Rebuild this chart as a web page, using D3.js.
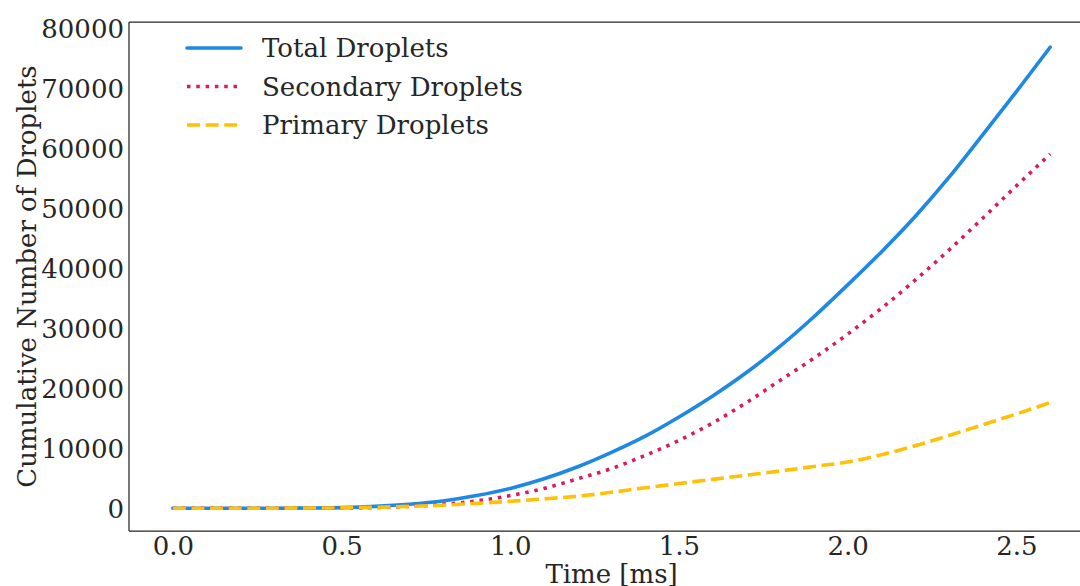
<!DOCTYPE html>
<html>
<head>
<meta charset="utf-8">
<script src="https://cdn.jsdelivr.net/npm/d3@7"></script>
<style>
  html, body { margin: 0; padding: 0; background: #fff; }
  svg { display: block; }
  text { font-family: "DejaVu Serif", serif; fill: #262626; }
</style>
</head>
<body>
<svg id="chart" width="1080" height="586"></svg>
<script>
// ---- data ----
const time = [0.0, 0.1, 0.2, 0.3, 0.4, 0.5, 0.6, 0.7, 0.8, 0.9, 1.0, 1.1, 1.2, 1.3,
              1.4, 1.5, 1.6, 1.7, 1.8, 1.9, 2.0, 2.1, 2.2, 2.3, 2.4, 2.5, 2.6];
const totalDroplets = [0, 0, 0, 0, 30, 100, 300, 650, 1200, 2100, 3300, 4900, 6900, 9300,
              12000, 15200, 18700, 22600, 27000, 31900, 37200, 42700, 48600, 55100, 62200, 69400, 76800];
const secondaryDroplets = [0, 0, 0, 0, 0, 20, 100, 300, 650, 1200, 2100, 3300, 4900, 6600,
              8800, 11300, 14200, 17600, 21300, 25000, 29000, 33300, 38000, 43000, 48300, 53700, 59000];
const primaryDroplets = [0, 0, 0, 0, 20, 50, 150, 300, 500, 800, 1150, 1550, 2000, 2650,
              3400, 4100, 4800, 5500, 6200, 6950, 7700, 8900, 10400, 12100, 13900, 15700, 17600];
const seriesNames = ["Total Droplets", "Secondary Droplets", "Primary Droplets"];
const xTicks = [0.0, 0.5, 1.0, 1.5, 2.0, 2.5];
const yTicks = [0, 10000, 20000, 30000, 40000, 50000, 60000, 70000, 80000];
const xLabel = "Time [ms]";
const yLabel = "Cumulative Number of Droplets";

// ---- layout / styles ----
const plot = { left: 129, right: 1094, top: 22, bottom: 531 };
const styles = [
  { color: "#1E88E5", dash: null },
  { color: "#D81B60", dash: "3.5,5.8" },
  { color: "#FFC107", dash: "13,5.6" }
];
const lw = 3.6;
const fontSize = 26;

const svg = d3.select("#chart");
const x = d3.scaleLinear().domain([-0.13, 2.73]).range([plot.left, plot.right]);
const y = d3.scaleLinear().domain([-3800, 81000]).range([plot.bottom, plot.top]);

// spines
const frame = svg.append("g");
frame.append("line").attr("x1", plot.left).attr("x2", plot.left)
  .attr("y1", plot.top).attr("y2", plot.bottom);
frame.append("line").attr("x1", plot.left).attr("x2", plot.right)
  .attr("y1", plot.bottom).attr("y2", plot.bottom);
frame.append("line").attr("x1", plot.left).attr("x2", plot.right)
  .attr("y1", plot.top).attr("y2", plot.top);
frame.append("line").attr("x1", plot.right).attr("x2", plot.right)
  .attr("y1", plot.top).attr("y2", plot.bottom);
frame.selectAll("line").attr("stroke", "#262626").attr("stroke-width", 1.25);

// axes (no tick marks)
const xAxis = d3.axisBottom(x).tickValues(xTicks).tickFormat(d3.format(".1f"))
  .tickSize(0).tickPadding(0);
const gx = svg.append("g").attr("transform", `translate(0,${plot.bottom})`).call(xAxis);
gx.select(".domain").remove();
gx.selectAll("text").attr("font-family", "DejaVu Serif").attr("font-size", fontSize)
  .attr("fill", "#262626").attr("dy", null).attr("y", 24);

const yAxis = d3.axisLeft(y).tickValues(yTicks).tickFormat(d3.format("d"))
  .tickSize(0).tickPadding(5);
const gy = svg.append("g").attr("transform", `translate(${plot.left},0)`).call(yAxis);
gy.select(".domain").remove();
gy.selectAll("text").attr("font-family", "DejaVu Serif").attr("font-size", fontSize)
  .attr("fill", "#262626").attr("dy", "0.36em");

// axis titles
svg.append("text").attr("x", (plot.left + plot.right) / 2).attr("y", 583)
  .attr("text-anchor", "middle").attr("font-size", fontSize).text(xLabel);
svg.append("text")
  .attr("transform", `translate(36,${(plot.top + plot.bottom) / 2}) rotate(-90)`)
  .attr("text-anchor", "middle").attr("font-size", fontSize).text(yLabel);

// lines
const seriesData = [totalDroplets, secondaryDroplets, primaryDroplets];
const line = d3.line().x(d => x(d[0])).y(d => y(d[1])).curve(d3.curveMonotoneX);
const clip = svg.append("clipPath").attr("id", "clip").append("rect")
  .attr("x", plot.left).attr("y", plot.top)
  .attr("width", plot.right - plot.left).attr("height", plot.bottom - plot.top);
const lines = svg.append("g").attr("clip-path", "url(#clip)");
seriesData.forEach((vals, i) => {
  const pts = time.map((t, j) => [t, vals[j]]);
  lines.append("path").datum(pts)
    .attr("d", line)
    .attr("fill", "none")
    .attr("stroke", styles[i].color)
    .attr("stroke-width", lw)
    .attr("stroke-linejoin", "round")
    .attr("stroke-linecap", styles[i].dash ? "butt" : "round")
    .attr("stroke-dasharray", styles[i].dash);
});

// legend
const legend = svg.append("g");
seriesNames.forEach((name, i) => {
  const ly = 48 + i * 38.5;
  legend.append("line").attr("x1", 187).attr("x2", 241).attr("y1", ly).attr("y2", ly)
    .attr("stroke", styles[i].color).attr("stroke-width", lw)
    .attr("stroke-linecap", styles[i].dash ? "butt" : "round")
    .attr("stroke-dasharray", styles[i].dash);
  legend.append("text").attr("x", 262).attr("y", ly).attr("dy", "0.36em")
    .attr("font-size", fontSize).text(name);
});
</script>
</body>
</html>
